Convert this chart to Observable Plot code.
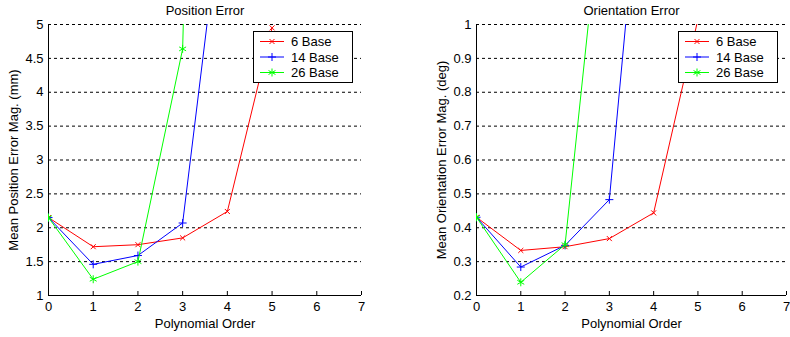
<!DOCTYPE html>
<html>
<head>
<meta charset="utf-8">
<script src="https://cdn.jsdelivr.net/npm/d3@7"></script>
<script src="https://cdn.jsdelivr.net/npm/@observablehq/plot@0.6"></script>
<style>
  html, body { margin: 0; padding: 0; background: #fff; }
  #wrap { display: flex; width: 790px; height: 337px; overflow: hidden; }
  #wrap svg { display: block; flex: none; }
</style>
</head>
<body>
<div id="wrap"></div>
<script>
// ---- data ----
const orders = [0, 1, 2, 3, 4, 5, 6, 7];
const seriesNames = ["6 Base", "14 Base", "26 Base"];
const seriesColors = ["#ff0000", "#0000ff", "#00ff00"];
const seriesSymbols = ["times", "plus", "asterisk"];
const seriesR = [2.4, 2.7, 3.76];

const pos6  = [2.15, 1.72, 1.75, 1.85, 2.24, 4.95];
const pos14 = [2.15, 1.46, 1.59, 2.07, 7.45];
const pos26 = [2.15, 1.24, 1.50, 4.64, 30];

const ori6  = [0.431, 0.333, 0.344, 0.368, 0.444, 1.015];
const ori14 = [0.431, 0.284, 0.348, 0.483, 1.89];
const ori26 = [0.431, 0.239, 0.350, 1.59];

const xTicks = [0, 1, 2, 3, 4, 5, 6, 7];
const posTicks = [1, 1.5, 2, 2.5, 3, 3.5, 4, 4.5, 5];
const oriTicks = [0.2, 0.3, 0.4, 0.5, 0.6, 0.7, 0.8, 0.9, 1];

const FONT = "'Liberation Sans', Arial, sans-serif";
const fmt = d3.format("~g");

function panel({width, marginLeft, marginRight, yDomain, yTicks, series, title, ylabel, ylabelDx}) {
  const marks = [
    Plot.ruleY(yTicks, {stroke: "black", strokeWidth: 1, strokeDasharray: "3,3"}),
    Plot.ruleX([xTicks[0]], {stroke: "black"}),
    Plot.ruleY([yDomain[0]], {stroke: "black"}),
    Plot.axisX({ticks: xTicks, tickSize: -4, tickFormat: () => "", label: null}),
    Plot.axisX({ticks: xTicks, tickSize: 0, tickPadding: 6, tickFormat: fmt, label: null, fontSize: 13}),
    Plot.axisY({ticks: yTicks, tickSize: 0, tickPadding: 5, tickFormat: fmt, label: null, fontSize: 13}),
    Plot.text([title], {frameAnchor: "top", dy: -14, fontSize: 13, textAnchor: "middle", lineAnchor: "middle"}),
    Plot.text(["Polynomial Order"], {frameAnchor: "bottom", dy: 28, fontSize: 13, textAnchor: "middle", lineAnchor: "middle"}),
    Plot.text([ylabel], {frameAnchor: "left", dx: ylabelDx, rotate: -90, fontSize: 13, textAnchor: "middle", lineAnchor: "middle"})
  ];
  series.forEach((vals, i) => {
    const d = vals.map((v, j) => ({x: orders[j], y: v}));
    marks.push(Plot.line(d, {x: "x", y: "y", stroke: seriesColors[i], strokeWidth: 1, clip: true}));
    marks.push(Plot.dot(d, {x: "x", y: "y", stroke: seriesColors[i], symbol: seriesSymbols[i], r: seriesR[i], strokeWidth: 1, clip: true}));
  });
  const chart = Plot.plot({
    width, height: 337, marginLeft, marginRight, marginTop: 24, marginBottom: 42,
    style: {fontFamily: FONT, fontSize: "13px", background: "white", color: "black", overflow: "visible"},
    x: {domain: [xTicks[0], xTicks[xTicks.length - 1]]},
    y: {domain: yDomain},
    marks
  });

  // legend
  const xs = chart.scale("x"), ys = chart.scale("y");
  const boxW = 99, boxH = 51;
  const right = xs.apply(xTicks[xTicks.length - 1]) - 9;
  const top = ys.apply(yDomain[1]) + 7;
  const left = right - boxW;
  const g = d3.select(chart).append("g").attr("font-family", FONT).attr("font-size", 13).attr("text-anchor", "start");
  g.append("rect").attr("x", left + 0.5).attr("y", top + 0.5).attr("width", boxW).attr("height", boxH)
    .attr("fill", "white").attr("stroke", "black").attr("stroke-width", 1);
  const syms = [d3.symbolTimes, d3.symbolPlus, d3.symbolAsterisk];
  seriesNames.forEach((name, i) => {
    const cy = top + 10.5 + i * 15.5;
    g.append("line").attr("x1", left + 7).attr("x2", left + 31).attr("y1", cy).attr("y2", cy)
      .attr("stroke", seriesColors[i]).attr("stroke-width", 1);
    g.append("path").attr("transform", `translate(${left + 19},${cy})`)
      .attr("d", d3.symbol(syms[i], seriesR[i] * seriesR[i] * Math.PI)())
      .attr("fill", "none").attr("stroke", seriesColors[i]).attr("stroke-width", 1);
    g.append("text").attr("x", left + 38).attr("y", cy).attr("dy", "0.35em")
      .attr("text-anchor", "start").attr("fill", "black").text(name);
  });
  return chart;
}

const wrap = document.getElementById("wrap");
wrap.appendChild(panel({
  width: 400, marginLeft: 48, marginRight: 39,
  yDomain: [1, 5], yTicks: posTicks, series: [pos6, pos14, pos26],
  title: "Position Error", ylabel: "Mean Position Error Mag. (mm)", ylabelDx: -35
}));
wrap.appendChild(panel({
  width: 390, marginLeft: 76, marginRight: 4,
  yDomain: [0.2, 1], yTicks: oriTicks, series: [ori6, ori14, ori26],
  title: "Orientation Error", ylabel: "Mean Orientation Error Mag. (deg)", ylabelDx: -35
}));
</script>
</body>
</html>
